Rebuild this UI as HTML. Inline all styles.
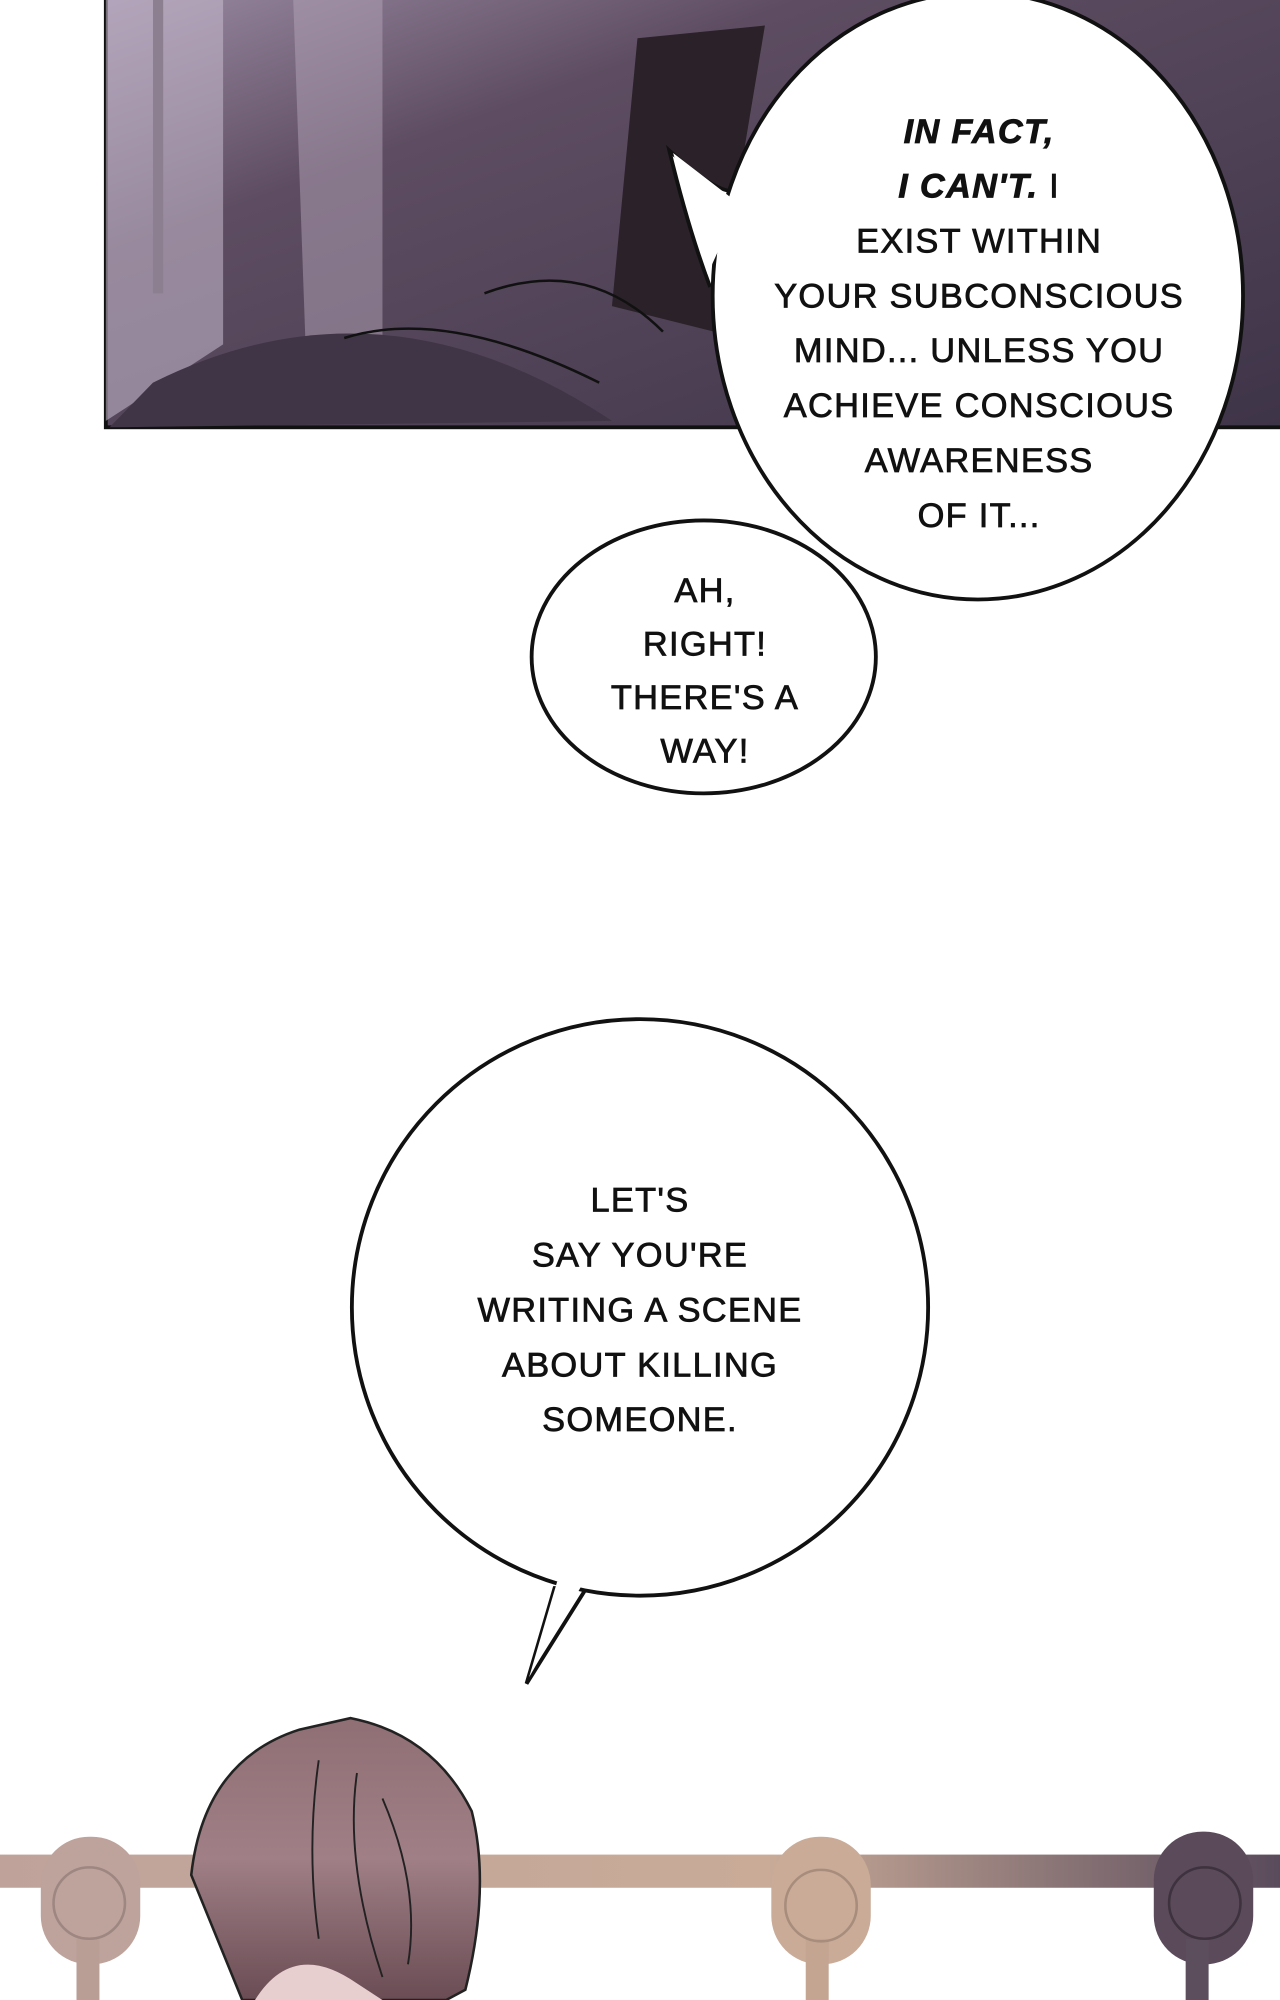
<!DOCTYPE html>
<html><head><meta charset="utf-8"><style>
html,body{margin:0;padding:0;background:#fff;}
svg{display:block;}
text{font-family:"Liberation Sans",sans-serif;font-size:27px;fill:#111;text-anchor:middle;letter-spacing:1px;stroke:#111;stroke-width:0.6px;}
</style></head><body>
<svg width="1280" height="2000" viewBox="0 0 1004 1568" preserveAspectRatio="none" xmlns="http://www.w3.org/2000/svg">
<defs>
<linearGradient id="pg" x1="0" y1="0" x2="1" y2="1">
<stop offset="0" stop-color="#9a8aa2"/><stop offset="0.3" stop-color="#5e4d62"/><stop offset="1" stop-color="#3e3448"/>
</linearGradient>
<linearGradient id="rail" x1="0" y1="0" x2="1" y2="0">
<stop offset="0" stop-color="#bfa39a"/><stop offset="0.6" stop-color="#c9ab98"/><stop offset="1" stop-color="#5a4b5c"/>
</linearGradient>
<linearGradient id="hair" x1="0" y1="0" x2="0" y2="1">
<stop offset="0" stop-color="#8f6f74"/><stop offset="0.5" stop-color="#a07f86"/><stop offset="1" stop-color="#6a4c54"/>
</linearGradient>
</defs>
<!-- top panel -->
<rect x="83" y="-5" width="930" height="340" fill="url(#pg)" stroke="#111" stroke-width="3"/>
<path d="M83 0 L175 0 L175 270 L83 330Z" fill="#c9bccf" opacity="0.55"/>
<rect x="120" y="0" width="8" height="230" fill="#8c7f90"/>
<path d="M230 0 L300 0 L300 300 L240 280Z" fill="#b4a4b8" opacity="0.5"/>
<path d="M500 30 L600 20 L560 260 L480 240Z" fill="#2a2228"/>
<path d="M86 335 L120 300 Q300 210 480 330Z" fill="#3f3546"/>
<path d="M270 265 Q350 240 470 300" stroke="#111" stroke-width="2" fill="none"/>
<path d="M380 230 Q460 200 520 260" stroke="#111" stroke-width="2" fill="none"/>
<!-- bubble 2 (behind) -->
<ellipse cx="552" cy="515" rx="135" ry="107" fill="#fff" stroke="#111" stroke-width="3"/>
<!-- bubble 1 -->
<path d="M557 225 Q540 180 525 118 Q560 150 575 150" fill="#fff" stroke="#111" stroke-width="3"/>
<ellipse cx="767" cy="232" rx="208" ry="238" fill="#fff" stroke="#111" stroke-width="3"/>
<path d="M555 215 L528 120 L580 160Z" fill="#fff"/>
<text x="768" y="112" font-style="italic" font-weight="bold">IN FACT,</text>
<text x="768" y="155"><tspan font-style="italic" font-weight="bold">I CAN'T.</tspan> I</text>
<text x="768" y="198">EXIST WITHIN</text>
<text x="768" y="241">YOUR SUBCONSCIOUS</text>
<text x="768" y="284">MIND... UNLESS YOU</text>
<text x="768" y="327">ACHIEVE CONSCIOUS</text>
<text x="768" y="370">AWARENESS</text>
<text x="768" y="413">OF IT...</text>
<text x="553" y="472">AH,</text>
<text x="553" y="514">RIGHT!</text>
<text x="553" y="556">THERE'S A</text>
<text x="553" y="598">WAY!</text>
<!-- bubble 3 -->
<path d="M435 1245 L413 1320 L460 1245Z" fill="#fff" stroke="#111" stroke-width="3"/>
<circle cx="502" cy="1025" r="226" fill="#fff" stroke="#111" stroke-width="3"/>
<path d="M437 1240 L415 1315 L458 1240Z" fill="#fff"/>
<text x="502" y="950">LET'S</text>
<text x="502" y="993">SAY YOU'RE</text>
<text x="502" y="1036">WRITING A SCENE</text>
<text x="502" y="1079">ABOUT KILLING</text>
<text x="502" y="1122">SOMEONE.</text>
<!-- bottom rail -->
<rect x="0" y="1454" width="1004" height="26" fill="url(#rail)"/>
<g>
<rect x="32" y="1440" width="78" height="100" rx="38" fill="#bda39c"/>
<rect x="60" y="1520" width="18" height="60" fill="#b99e96"/>
<circle cx="70" cy="1492" r="28" fill="none" stroke="#9e8681" stroke-width="2"/>
<rect x="605" y="1440" width="78" height="100" rx="38" fill="#c9ab98"/>
<rect x="632" y="1520" width="18" height="60" fill="#c3a592"/>
<circle cx="644" cy="1494" r="28" fill="none" stroke="#a88d7c" stroke-width="2"/>
<rect x="905" y="1436" width="78" height="104" rx="38" fill="#5a4a5a"/>
<rect x="930" y="1520" width="18" height="60" fill="#5d4e5e"/>
<circle cx="945" cy="1492" r="28" fill="none" stroke="#3e323e" stroke-width="2"/>
</g>
<!-- head -->
<path d="M190 1568 L150 1470 Q160 1380 235 1356 L275 1347 Q340 1360 370 1420 Q385 1480 365 1560 L350 1568Z" fill="url(#hair)" stroke="#222" stroke-width="2"/>
<path d="M200 1568 Q230 1520 280 1555 L300 1568Z" fill="#e8cfcf"/>
<path d="M280 1390 Q270 1460 300 1550" stroke="#222" stroke-width="1.5" fill="none"/>
<path d="M250 1380 Q240 1450 250 1520" stroke="#222" stroke-width="1.5" fill="none"/>
<path d="M300 1410 Q330 1480 320 1540" stroke="#222" stroke-width="1.5" fill="none"/>
</svg>
</body></html>
